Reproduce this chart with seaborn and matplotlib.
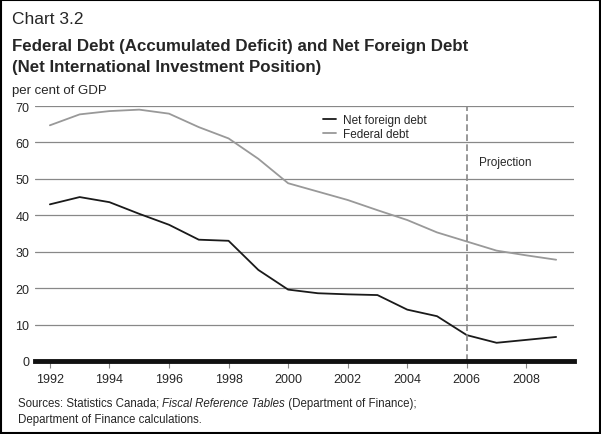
import numpy as np
import pandas as pd
import matplotlib
matplotlib.use("Agg")
import matplotlib.pyplot as plt
import seaborn as sns

# values (per cent of GDP)
years = list(range(1992, 2010))
net_foreign_debt = [43.0, 45.0, 43.6, 40.4, 37.4, 33.3, 33.0, 25.0, 19.6, 18.6,
                    18.3, 18.1, 14.1, 12.3, 7.1, 5.0, 5.8, 6.6]
federal_debt = [64.7, 67.7, 68.6, 69.0, 67.9, 64.2, 61.1, 55.5, 48.8, 46.5,
                44.2, 41.4, 38.7, 35.3, 32.8, 30.3, 29.0, 27.8]
tick_years = list(range(1992, 2010, 2))
projection_start = 2006

df = pd.DataFrame({"year": years * 2,
                   "value": net_foreign_debt + federal_debt,
                   "series": ["Net foreign debt"] * len(years) + ["Federal debt"] * len(years)})

sns.set_style("white")
plt.rcParams['font.family'] = ['Liberation Sans', 'DejaVu Sans']

fig = plt.figure(figsize=(6.01, 4.35), dpi=100)
ax = fig.add_axes([35 / 601, 1 - 362 / 435, (574 - 35) / 601, (362 - 107) / 435])

sns.lineplot(data=df, x="year", y="value", hue="series",
             palette={"Net foreign debt": "#1a1a1a", "Federal debt": "#999999"},
             linewidth=1.3, ax=ax)

ax.set_xlim(1991.5, 2009.6)
ax.set_ylim(0, 70)
ax.set_yticks(range(0, 71, 10))
ax.set_xticks(tick_years)
ax.set_xticklabels([str(y) for y in tick_years])
ax.grid(axis="y", color="#888888", linewidth=0.9)
ax.set_axisbelow(True)
for s in ["left", "right", "top"]:
    ax.spines[s].set_visible(False)
ax.spines["bottom"].set_linewidth(3.5)
ax.spines["bottom"].set_color("#111111")
ax.tick_params(axis="x", length=5, width=0.8, color="#888888", labelsize=9, pad=4, bottom=True)
ax.tick_params(axis="y", length=0, labelsize=9, pad=4)
ax.set_xlabel("")
ax.set_ylabel("")

ax.axvline(projection_start, color="#888888", linestyle=(0, (4, 2)), linewidth=1.2)
ax.text(projection_start + 0.4, 54.5, "Projection", fontsize=8.5, va="center")

leg = ax.legend(loc="upper left", bbox_to_anchor=(0.515, 1.01), frameon=False,
                fontsize=8.5, handlelength=1.1, handletextpad=0.6, labelspacing=0.2)

fig.text(12 / 601, 1 - 20 / 435, "Chart 3.2", fontsize=12.5, va="center")
fig.text(12 / 601, 1 - 46 / 435, "Federal Debt (Accumulated Deficit) and Net Foreign Debt",
         fontsize=12.2, fontweight="bold", va="center")
fig.text(12 / 601, 1 - 68 / 435, "(Net International Investment Position)",
         fontsize=12.2, fontweight="bold", va="center")
fig.text(12 / 601, 1 - 91 / 435, "per cent of GDP", fontsize=9.5, va="center")

# sources line with italic title in the middle
renderer = fig.canvas.get_renderer()
x0 = 18 / 601
y_src = 1 - 404 / 435
for part, style in [("Sources: Statistics Canada; ", "normal"),
                    ("Fiscal Reference Tables", "italic"),
                    (" (Department of Finance);", "normal")]:
    t = fig.text(x0, y_src, part, fontsize=8.3, va="center", style=style)
    bb = t.get_window_extent(renderer=renderer)
    x0 += bb.width / fig.bbox.width
fig.text(18 / 601, 1 - 420 / 435, "Department of Finance calculations.", fontsize=8.3, va="center")

fig.patches.append(plt.Rectangle((0.002, 0.002), 0.996, 0.996, transform=fig.transFigure,
                                 fill=False, edgecolor="black", linewidth=1.5))

fig.savefig("out.png", dpi=100)
